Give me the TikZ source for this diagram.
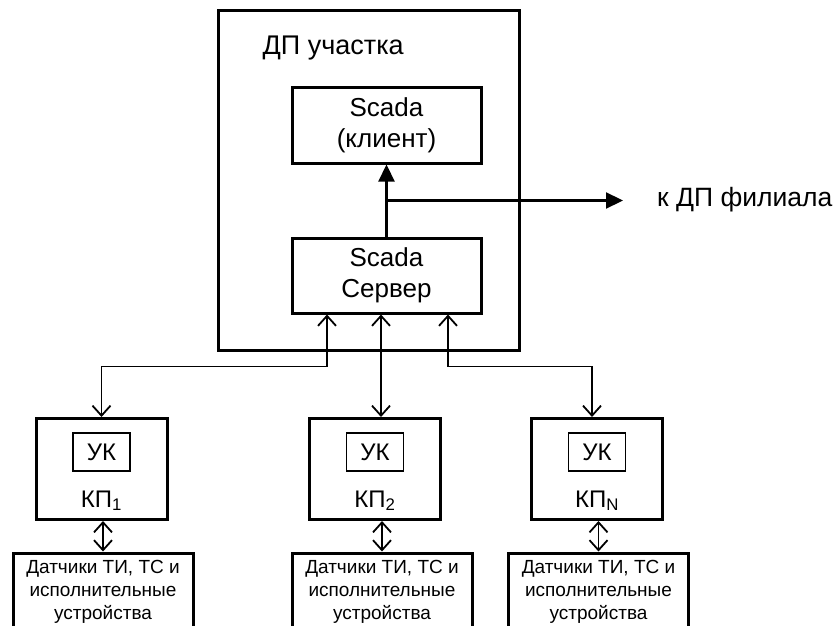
\documentclass[tikz,border=0pt]{standalone}
\usepackage{fontspec}
\setmainfont{Liberation Sans}
\usetikzlibrary{arrows.meta,positioning,calc}

\tikzset{
  block/.style={draw, line width=3pt, inner sep=0pt, align=center, font=\fontsize{26}{31}\selectfont},
  ukbox/.style={draw, line width=1.8pt, minimum width=57pt, minimum height=38pt, inner sep=0pt, font=\fontsize{24}{28}\selectfont},
  sensbox/.style={draw, line width=3pt, minimum width=180pt, minimum height=78pt, inner sep=0pt, align=center, font=\fontsize{19}{23}\selectfont},
  link/.style={line width=1.8pt, {Straight Barb[length=10pt,width=18pt]}-{Straight Barb[length=10pt,width=18pt]}},
  mainarrow/.style={line width=2.2pt, -{Triangle[length=17pt,width=16pt]}}
}

\begin{document}
\begin{tikzpicture}[x=1pt,y=-1pt]
        \useasboundingbox (0,0) rectangle (835,626);

        % Dispatch point of the section
        \node[block, minimum width=301pt, minimum height=339pt] (dp) at (368.5,180.5) {};
        \node[anchor=base west, inner sep=0pt, font=\fontsize{27}{32}\selectfont] (dptitle)
            at ([xshift=46pt,yshift=-45pt]dp.north west) {ДП участка};
        \node[block, minimum width=189pt, minimum height=76pt] (client) at (386.5,125) {Scada\\(клиент)};
        \node[block, minimum width=189pt, minimum height=75pt] (server) at (386.5,275.5) {Scada\\Сервер};

        % Server to client and to the branch
        \coordinate (branch) at ($(server.north)!0.5!(client.south)$);
        \draw[mainarrow] (server.north) -- (client.south);
        \node[anchor=west, inner sep=0pt, font=\fontsize{26.5}{31}\selectfont] (filial) at (657,200) {к ДП филиала};
        \coordinate (filtip) at ([xshift=-34pt]filial.west);
        \draw[mainarrow] (branch) -- (branch -| filtip);

        % Control points with sensors
        \foreach \i/\x/\s/\sx in {1/101.5/1/103, 2/375/2/382, 3/597/N/598.5} {
            \node[block, minimum width=131pt, minimum height=101pt] (kp\i) at (\x,469) {};
            \node[ukbox, below=15pt of kp\i.north] (uk\i) {УК};
            \node[anchor=base, inner sep=0pt, font=\fontsize{24}{28}\selectfont] (kplabel\i)
                at ([yshift=14pt]kp\i.south) {КП\textsubscript{\s}};
            \node[sensbox] (sens\i) at (\sx,592) {Датчики ТИ, ТС и\\исполнительные\\устройства};
            \draw[link] (sens\i.north |- kp\i.south) -- (sens\i.north);
        }

        % Links from the server
        \coordinate (port1) at ([xshift=-59.5pt]server.south);
        \coordinate (port2) at ([xshift=-5.5pt]server.south);
        \coordinate (port3) at ([xshift=61.5pt]server.south);
        \draw[link] (port1) -- ++(0,52) -| (kp1.north);
        \draw[link] (port2) -- (port2 |- kp2.north);
        \draw[link] (port3) -- ++(0,52) -| ([xshift=-5pt]kp3.north);
\end{tikzpicture}
\end{document}
